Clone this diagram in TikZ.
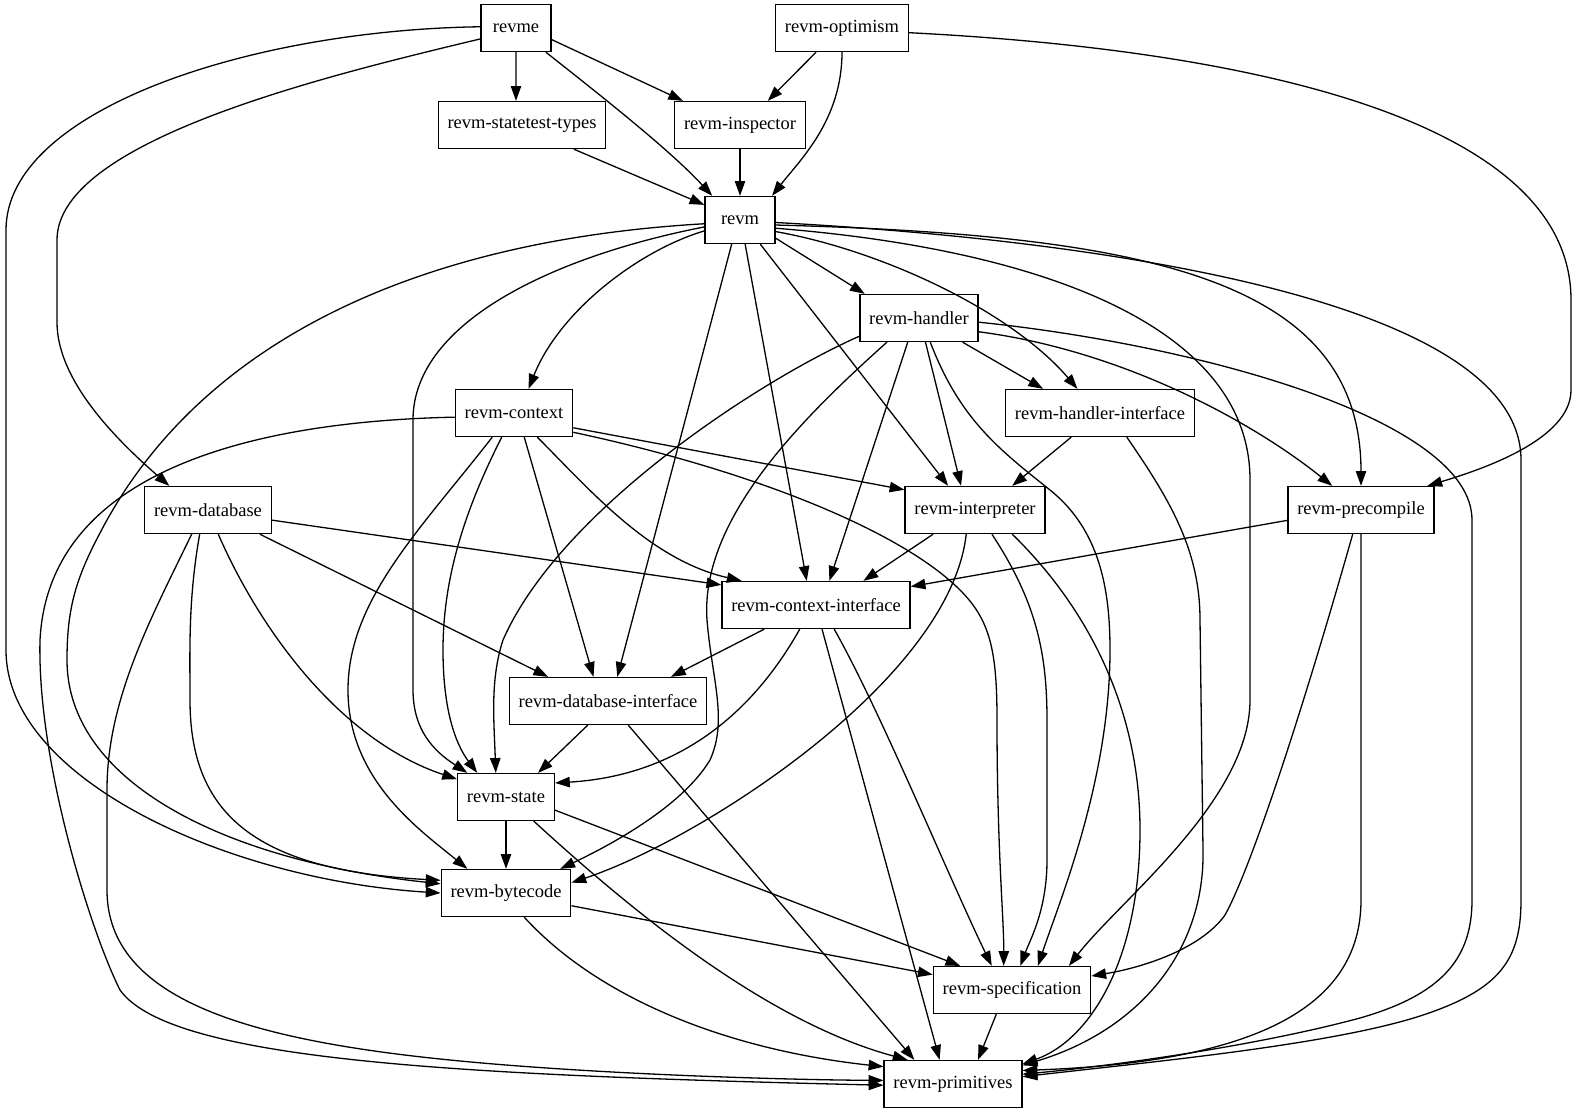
\documentclass[tikz,border=0pt]{standalone}
\usepackage{fontspec}
\setmainfont{Liberation Serif}
\usetikzlibrary{arrows.meta}

\begin{document}
\begin{tikzpicture}[x=0.5pt, y=-0.5pt,
                pkg/.style={draw, line width=0.65pt, font=\fontsize{9.25}{11}\selectfont,
                    minimum width=35pt, minimum height=23.5pt, inner xsep=4.65pt, inner ysep=0pt},
                dep/.style={-{Triangle[length=7.4pt, width=5.2pt]}, line width=0.65pt}]
                \fill[white] (0,0) rectangle (1579,1115);
                \node[pkg] (revme) at (516,28) {revme};
                \node[pkg] (opt) at (842,28) {revm-optimism};
                \node[pkg] (stt) at (522,125) {revm-statetest-types};
                \node[pkg] (insp) at (740,125) {revm-inspector};
                \node[pkg] (revm) at (740,220) {revm};
                \node[pkg] (hdl) at (919,318) {revm-handler};
                \node[pkg] (ctx) at (514,413) {revm-context};
                \node[pkg] (hif) at (1100,413) {revm-handler-interface};
                \node[pkg] (db) at (208,510) {revm-database};
                \node[pkg] (itp) at (975,510) {revm-interpreter};
                \node[pkg] (pre) at (1361,510) {revm-precompile};
                \node[pkg] (cif) at (816,605) {revm-context-interface};
                \node[pkg] (dbi) at (608,701) {revm-database-interface};
                \node[pkg] (st) at (506,797) {revm-state};
                \node[pkg] (bc) at (506,893) {revm-bytecode};
                \node[pkg] (spec) at (1012,990) {revm-specification};
                \node[pkg] (prim) at (953,1084) {revm-primitives};

                \draw[dep] (revme.south) -- (stt.104);
                \draw[dep] (revme.342) -- (insp.157);
                \draw[dep] (revme.321) .. controls (600,95) and (670,150) .. (revm.139);
                \draw[dep] (revme.197) .. controls (330,75) and (57,140) .. (57,240) -- (57,322) .. controls (57,375) and (105,430) .. (db.148);
                \draw[dep] (revme.178) .. controls (250,30) and (6,110) .. (6,230) -- (6,650) .. controls (6,780) and (230,880) .. (bc.180);

                \draw[dep] (opt.223) -- (insp.41);
                \draw[dep] (opt.south) .. controls (842,120) and (800,160) .. (revm.37);
                \draw[dep] (opt.356) .. controls (1250,50) and (1571,120) .. (1571,300) -- (1571,390) .. controls (1571,440) and (1480,470) .. (pre.20);

                \draw[dep] (stt.335) -- (revm.157);
                \draw[dep] (insp.south) -- (revm.north);

                \draw[dep] (revm.333) -- (hdl.156);
                \draw[dep] (revm.197) .. controls (640,250) and (560,310) .. (ctx.59);
                \draw[dep] (revm.191) .. controls (560,255) and (413,320) .. (413,420) -- (413,690) .. controls (413,735) and (440,755) .. (st.148);
                \draw[dep] (revm.186) .. controls (420,240) and (200,340) .. (100,533) .. controls (75,580) and (67,610) .. (67,660) .. controls (67,780) and (220,860) .. (bc.172);
                \draw[dep] (revm.251) -- (dbi.69);
                \draw[dep] (revm.282) -- (cif.111);
                \draw[dep] (revm.310) -- (itp.138);
                \draw[dep] (revm.342) .. controls (880,250) and (1010,310) .. (hif.133);
                \draw[dep] (revm.352) .. controls (1150,235) and (1361,280) .. (pre.north);
                \draw[dep] (revm.347) .. controls (1050,250) and (1250,330) .. (1250,480) -- (1250,700) .. controls (1250,800) and (1120,900) .. (spec.23);
                \draw[dep] (revm.356) .. controls (1100,240) and (1521,300) .. (1521,460) -- (1521,900) .. controls (1521,960) and (1500,990) .. (1420,1016) .. controls (1330,1045) and (1150,1062) .. (prim.6);

                \draw[dep] (hdl.331) -- (hif.157);
                \draw[dep] (hdl.285) -- (itp.120);
                \draw[dep] (hdl.245) -- (cif.61);
                \draw[dep] (hdl.347) .. controls (1120,350) and (1250,420) .. (pre.140);
                \draw[dep] (hdl.356) .. controls (1200,345) and (1472,420) .. (1472,520) -- (1472,900) .. controls (1472,960) and (1440,995) .. (1360,1018) .. controls (1260,1045) and (1120,1065) .. (prim.8);
                \draw[dep] (hdl.197) .. controls (760,380) and (560,510) .. (503,640) .. controls (490,680) and (494,720) .. (st.113);
                \draw[dep] (hdl.217) .. controls (800,420) and (700,520) .. (707,620) .. controls (712,680) and (728,720) .. (710,760) .. controls (680,810) and (600,850) .. (bc.24);
                \draw[dep] (hdl.295) .. controls (960,420) and (1000,450) .. (1050,490) .. controls (1100,530) and (1110,590) .. (1110,650) .. controls (1110,780) and (1060,900) .. (spec.43);

                \draw[dep] (ctx.184) .. controls (320,420) and (50,445) .. (40,640) .. controls (37,760) and (90,930) .. (120,990) .. controls (170,1060) and (450,1075) .. (prim.181);
                \draw[dep] (ctx.243) .. controls (470,500) and (443,570) .. (443,650) .. controls (443,720) and (460,750) .. (st.140);
                \draw[dep] (ctx.228) .. controls (420,530) and (348,600) .. (348,690) .. controls (348,780) and (420,830) .. (bc.148);
                \draw[dep] (ctx.293) -- (dbi.121);
                \draw[dep] (ctx.314) .. controls (590,490) and (650,560) .. (cif.162);
                \draw[dep] (ctx.346) -- (itp.164);
                \draw[dep] (ctx.342) .. controls (750,470) and (900,530) .. (960,590) .. controls (990,620) and (997,650) .. (997,720) .. controls (997,850) and (1004,920) .. (spec.109);

                \draw[dep] (hif.220) -- (itp.33);
                \draw[dep] (hif.318) .. controls (1170,500) and (1200,550) .. (1200,620) -- (1203,850) .. controls (1205,950) and (1140,1030) .. (prim.15);

                \draw[dep] (db.351) -- (cif.168);
                \draw[dep] (db.335) -- (dbi.158);
                \draw[dep] (db.293) .. controls (260,630) and (340,740) .. (st.160);
                \draw[dep] (db.251) .. controls (188,600) and (190,650) .. (190,700) .. controls (190,810) and (250,870) .. (bc.169);
                \draw[dep] (db.236) .. controls (150,620) and (107,700) .. (107,790) -- (107,890) .. controls (107,1000) and (250,1040) .. (450,1060) .. controls (600,1075) and (800,1080) .. (prim.177);

                \draw[dep] (itp.210) -- (cif.27);
                \draw[dep] (itp.250) .. controls (950,680) and (700,840) .. (bc.9);
                \draw[dep] (itp.305) .. controls (1035,600) and (1047,650) .. (1047,720) -- (1047,860) .. controls (1047,910) and (1030,940) .. (spec.71);
                \draw[dep] (itp.327) .. controls (1080,600) and (1140,700) .. (1140,830) .. controls (1140,960) and (1090,1040) .. (prim.16);

                \draw[dep] (pre.188) -- (cif.11);
                \draw[dep] (pre.251) .. controls (1300,720) and (1250,870) .. (1225,915) .. controls (1200,950) and (1140,968) .. (spec.10);
                \draw[dep] (pre.south) -- (1361,900) .. controls (1361,1010) and (1250,1062) .. (prim.11);

                \draw[dep] (cif.205) -- (dbi.21);
                \draw[dep] (cif.236) .. controls (760,700) and (690,775) .. (st.16);
                \draw[dep] (cif.284) -- (prim.119);
                \draw[dep] (cif.307) .. controls (880,710) and (950,880) .. (spec.130);

                \draw[dep] (dbi.230) -- (st.37);
                \draw[dep] (dbi.310) -- (prim.148);

                \draw[dep] (st.south) -- (bc.north);
                \draw[dep] (st.345) -- (spec.155);
                \draw[dep] (st.319) .. controls (620,900) and (760,1020) .. (prim.152);

                \draw[dep] (bc.349) -- (spec.169);
                \draw[dep] (bc.307) .. controls (600,1000) and (730,1050) .. (prim.166);

                \draw[dep] (spec.237) -- (prim.44);
            \end{tikzpicture}
\end{document}
